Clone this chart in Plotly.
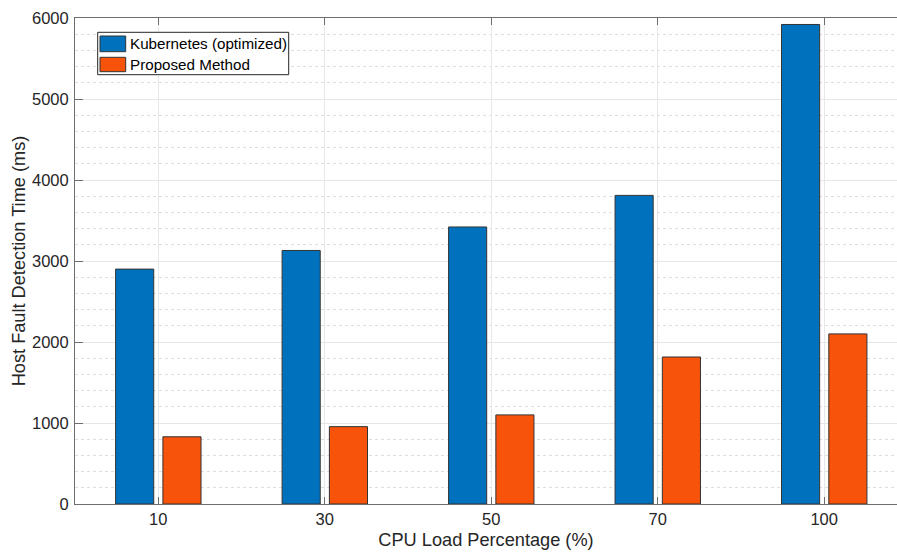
import plotly.graph_objects as go

categories = ["10", "30", "50", "70", "100"]
series_names = ["Kubernetes (optimized)", "Proposed Method"]
kubernetes = [2900, 3130, 3420, 3810, 5920]
proposed = [830, 955, 1100, 1815, 2100]
y_ticks = [0, 1000, 2000, 3000, 4000, 5000, 6000]

colors = ["#0072BD", "#F7530A"]
W, H = 897, 557
L, R, T, B = 75, 0, 18, 53
pw, ph = W - L - R, H - T - B

def px(x):
    return (x - L) / pw

def py(y):
    return (H - B - y) / ph

xpos = list(range(1, len(categories) + 1))
fig = go.Figure()
for vals, name, col, off in [(kubernetes, series_names[0], colors[0], -0.256),
                             (proposed, series_names[1], colors[1], 0.028)]:
    fig.add_trace(go.Bar(x=xpos, y=vals, name=name, width=0.229, offset=off,
                         marker=dict(color=col, line=dict(color="#333333", width=1)),
                         showlegend=False))

font_family = "Liberation Sans, Arial, sans-serif"
fig.update_layout(
    width=W, height=H, margin=dict(l=L, r=R, t=T, b=B),
    plot_bgcolor="white", paper_bgcolor="white", barmode="overlay",
    font=dict(family=font_family, color="#262626"),
    xaxis=dict(range=[0.5, 5.4376], tickvals=xpos, ticktext=categories,
               showgrid=True, gridcolor="#e8e8e8", gridwidth=1,
               showline=True, linecolor="#6e6e6e", linewidth=1, mirror="ticks",
               ticks="inside", ticklen=7, tickcolor="#6e6e6e",
               tickfont=dict(size=16.5, color="#262626"),
               title=dict(text="CPU Load Percentage (%)", font=dict(size=18.2, color="#262626"), standoff=6),
               zeroline=False),
    yaxis=dict(range=[0, 6000], tickvals=y_ticks,
               showgrid=True, gridcolor="#e6e6e6", gridwidth=1,
               minor=dict(dtick=200, showgrid=True, gridcolor="#dedede", griddash="dot", gridwidth=1),
               showline=True, linecolor="#6e6e6e", linewidth=1,
               ticks="inside", ticklen=8, tickcolor="#6e6e6e",
               tickfont=dict(size=16.5, color="#262626"), ticklabelstandoff=2,
               title=dict(text="Host Fault Detection Time (ms)", font=dict(size=18.2, color="#262626"), standoff=1),
               zeroline=False),
)

# legend (manual, MATLAB style)
fig.add_shape(type="rect", xref="paper", yref="paper", x0=px(97.7), x1=px(288.7), y0=py(74.7), y1=py(32.3),
              fillcolor="white", line=dict(color="#262626", width=1), layer="above")
rows = [(36, 51.7, 44), (57.3, 71.7, 64.5)]
for (y0, y1, yc), name, col in zip(rows, series_names, colors):
    fig.add_shape(type="rect", xref="paper", yref="paper", x0=px(100), x1=px(125.7), y0=py(y1), y1=py(y0),
                  fillcolor=col, line=dict(color="#333333", width=1), layer="above")
    fig.add_annotation(x=px(127.5), y=py(yc), xref="paper", yref="paper", text=name, showarrow=False,
                       xanchor="left", yanchor="middle", font=dict(size=15.2, color="#000000"))

fig.write_html("out.html")
